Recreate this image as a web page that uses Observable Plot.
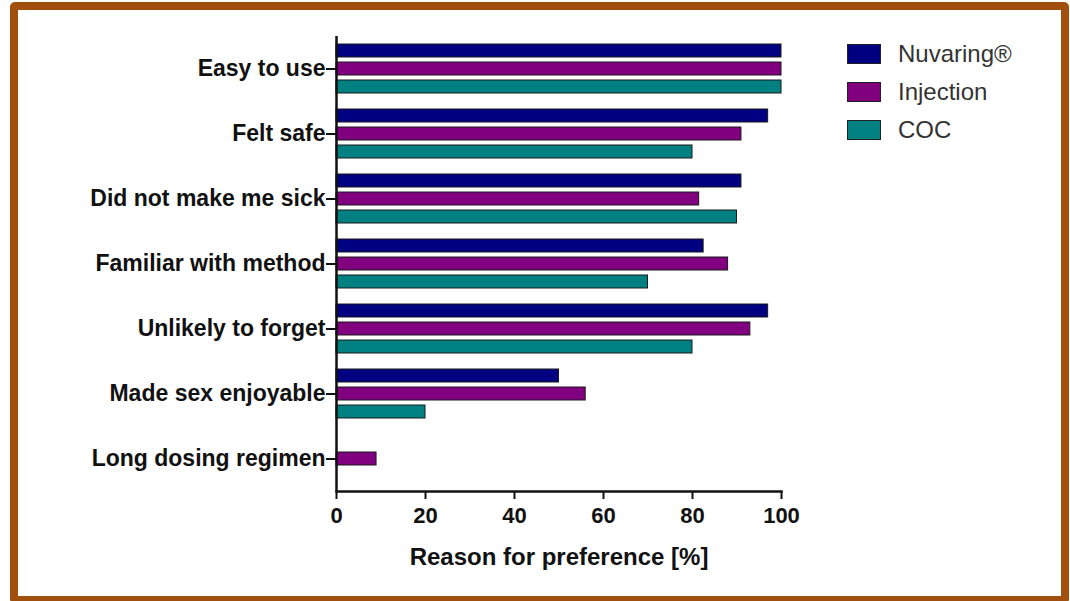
<!DOCTYPE html>
<html>
<head>
<meta charset="utf-8">
<script src="https://cdn.jsdelivr.net/npm/d3@7"></script>
<script src="https://cdn.jsdelivr.net/npm/@observablehq/plot@0.6"></script>
<style>
  html, body { margin: 0; padding: 0; background: #fff; }
  #wrap { position: relative; width: 1070px; height: 601px; overflow: hidden; background: #fff; font-family: "Liberation Sans", Arial, sans-serif; }
  #chart { position: absolute; left: 0; top: 0; }
  #border { position: absolute; left: 10px; top: 2px; width: 1043px; height: 586px; border: 8px solid #a04f0d; border-radius: 5px; pointer-events: none; }
  #legend { position: absolute; left: 847px; top: 35px; }
  .row { display: flex; align-items: center; height: 38px; }
  .sw { width: 32px; height: 18px; border: 1px solid #222; margin-right: 17px; }
  .lab { font-size: 24px; color: #333; line-height: 1; }
</style>
</head>
<body>
<div id="wrap">
  <div id="chart"></div>
  <div id="legend"></div>
  <div id="border"></div>
</div>
<script>
const categories = ["Easy to use", "Felt safe", "Did not make me sick", "Familiar with method", "Unlikely to forget", "Made sex enjoyable", "Long dosing regimen"];
const seriesNames = ["Nuvaring®", "Injection", "COC"];
const seriesColors = ["#000080", "#800080", "#008080"];
const nuvaring = [100, 97, 91, 82.5, 97, 50, 0];
const injection = [100, 91, 81.5, 88, 93, 56, 9];
const coc = [100, 80, 90, 70, 80, 20, 0];
const xTicks = [0, 20, 40, 60, 80, 100];
const xLabel = "Reason for preference [%]";

const seriesValues = [nuvaring, injection, coc];
const offsets = [-18, 0, 18];

const barMarks = seriesValues.map((vals, i) =>
  Plot.barX(categories.map((c, j) => ({category: c, value: vals[j]})), {
    y: "category",
    x: "value",
    filter: d => d.value > 0,
    fill: seriesColors[i],
    stroke: "#1a1a1a",
    strokeWidth: 1,
    insetTop: 26,
    insetBottom: 26,
    dy: offsets[i]
  })
);

const chart = Plot.plot({
  width: 1070,
  height: 601,
  marginLeft: 336,
  marginRight: 289,
  marginTop: 36,
  marginBottom: 110,
  style: {fontFamily: "Liberation Sans, Arial, sans-serif", background: "transparent", color: "#111"},
  x: {domain: [0, 100], axis: null},
  y: {domain: categories, padding: 0, axis: null},
  marks: [
    ...barMarks,
    Plot.axisY({tickSize: 10, tickPadding: 1, fontSize: 23, fontWeight: "bold", strokeWidth: 2, label: null}),
    Plot.axisX({ticks: xTicks, tickSize: 8, tickPadding: 8, fontSize: 22, fontWeight: "bold", strokeWidth: 2, label: null}),
    Plot.ruleX([0], {strokeWidth: 2.5, stroke: "#111"}),
    Plot.frame({anchor: "bottom", strokeWidth: 2.5, stroke: "#111"}),
    Plot.text([xLabel], {frameAnchor: "bottom", dy: 73, fontSize: 24, fontWeight: "bold", fill: "#111"})
  ]
});
document.getElementById("chart").appendChild(chart);

const legend = document.getElementById("legend");
seriesNames.forEach((name, i) => {
  const row = document.createElement("div");
  row.className = "row";
  const sw = document.createElement("div");
  sw.className = "sw";
  sw.style.background = seriesColors[i];
  const lab = document.createElement("div");
  lab.className = "lab";
  lab.textContent = name;
  row.appendChild(sw);
  row.appendChild(lab);
  legend.appendChild(row);
});
</script>
</body>
</html>
